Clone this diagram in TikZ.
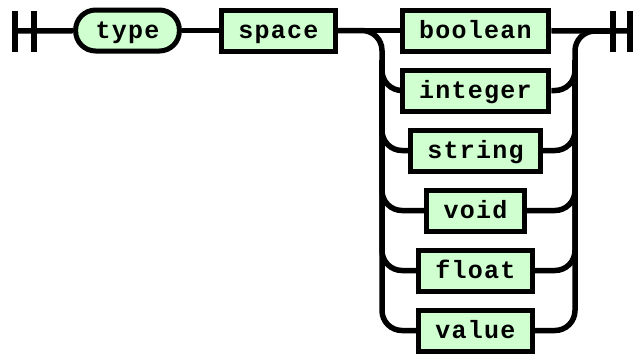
\documentclass[tikz,border=0pt]{standalone}
\usepackage{fontspec}
\usepackage{tikz}
\usetikzlibrary{positioning}
\usepackage{xcolor}
\newfontfamily\railfont{Liberation Mono}[LetterSpace=5]
\definecolor{termc}{RGB}{208,255,208}
\tikzset{
  box/.style={draw=black, line width=5pt, fill=termc, minimum height=41pt, inner xsep=17pt, inner ysep=0pt,
    text height=20pt, text depth=4pt, font=\railfont\bfseries\fontsize{25}{25}\selectfont},
  keyword/.style={box, rounded corners=20pt, inner xsep=20pt},
  choice/.style={box},
  rail/.style={line width=5.5pt, black},
  railbend/.style={rail, rounded corners=20pt},
  stopbar/.style={fill=black, minimum width=5.5pt, minimum height=41pt, inner sep=0pt}
}

\begin{document}
\begin{tikzpicture}[x=1pt, y=-1pt]
  \useasboundingbox (0,0) rectangle (633,354);

  \node[stopbar] (lbarA) at (15,31) {};
  \node[stopbar] (lbarB) at (34,31) {};
  \node[keyword] (type) at (127.5,30.5) {type};
  \node[box] (space) at (278.5,30.5) {space};

  \node[choice] (boolean) at (475.5,30.5) {boolean};
  \node[choice] (integer) at (475.5,90.5) {integer};
  \node[choice] (string) at (475.5,150.5) {string};
  \node[choice] (void) at (475.5,210.5) {void};
  \node[choice] (float) at (475.5,270.5) {float};
  \node[choice] (value) at (475.5,330.5) {value};

  \node[stopbar] (rbarA) at (613,31) {};
  \node[stopbar] (rbarB) at (630,31) {};

  \coordinate (split) at (382,31);
  \coordinate (splitdown) at (382,60);
  \coordinate (merge) at (575,31);
  \coordinate (mergedown) at (575,60);

  \draw[rail] (lbarA.center) -- (type);
  \draw[rail] (type) -- (space);
  \draw[rail] (space) -- (boolean);
  \draw[rail] (boolean) -- (rbarB.center);

  \draw[railbend] (space.east) -| (split |- value) -- (value.west);
  \draw[railbend] (splitdown) |- (integer.west);
  \draw[railbend] (splitdown) |- (string.west);
  \draw[railbend] (splitdown) |- (void.west);
  \draw[railbend] (splitdown) |- (float.west);

  \draw[railbend] (value.east) -| (merge) -- (rbarA.center);
  \draw[railbend] (integer.east) -| (mergedown);
  \draw[railbend] (string.east) -| (mergedown);
  \draw[railbend] (void.east) -| (mergedown);
  \draw[railbend] (float.east) -| (mergedown);
\end{tikzpicture}
\end{document}
